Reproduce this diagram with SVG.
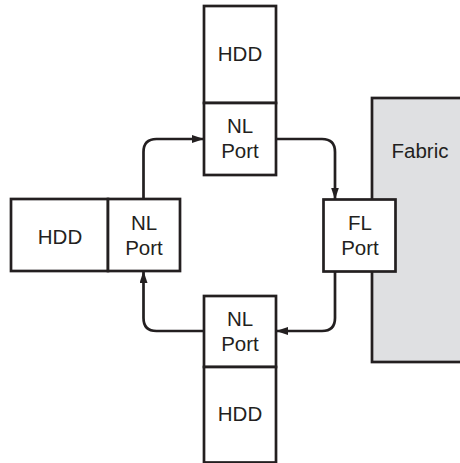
<svg xmlns="http://www.w3.org/2000/svg" width="460" height="463" viewBox="0 0 460 463">
<defs>
<style>
.box{fill:#ffffff;stroke:#231f20;stroke-width:2.7}
.fab{fill:#dfe0e2;stroke:#231f20;stroke-width:2.7}
.t{font-family:"Liberation Sans",Arial,sans-serif;font-size:20.5px;fill:#231f20;text-anchor:middle}
.c{fill:none;stroke:#231f20;stroke-width:2.7}
</style>
<marker id="ah" viewBox="0 0 12 8" refX="12" refY="4" markerWidth="12" markerHeight="8" markerUnits="userSpaceOnUse" orient="auto">
<path d="M0,0 L12,4 L0,8 Z" fill="#231f20"/>
</marker>
</defs>
<rect width="460" height="463" fill="#ffffff"/>
<g id="fabric">
<rect class="fab" x="372" y="98" width="100" height="264"/>
<text class="t" x="420" y="158">Fabric</text>
</g>
<g id="hdd-top">
<rect class="box" x="204" y="6" width="72" height="97"/>
<text class="t" x="240" y="61">HDD</text>
</g>
<g id="nlport-top">
<rect class="box" x="204" y="103" width="72" height="72"/>
<text class="t" x="240" y="133">NL</text>
<text class="t" x="240" y="158">Port</text>
</g>
<g id="hdd-left">
<rect class="box" x="11" y="199" width="97" height="72"/>
<text class="t" x="60" y="244">HDD</text>
</g>
<g id="nlport-left">
<rect class="box" x="108" y="199" width="72" height="72"/>
<text class="t" x="144" y="230">NL</text>
<text class="t" x="144" y="255">Port</text>
</g>
<g id="flport">
<rect class="box" x="323.5" y="199.5" width="72" height="72"/>
<text class="t" x="360" y="230">FL</text>
<text class="t" x="360" y="255">Port</text>
</g>
<g id="nlport-bottom">
<rect class="box" x="204" y="296" width="72" height="71"/>
<text class="t" x="240" y="326">NL</text>
<text class="t" x="240" y="351">Port</text>
</g>
<g id="hdd-bottom">
<rect class="box" x="204" y="367" width="72" height="95.5"/>
<text class="t" x="240" y="421">HDD</text>
</g>
<g id="connectors">
<path class="c" d="M143.5,199 L143.5,152 Q143.5,139 156.5,139 L204,139" marker-end="url(#ah)"/>
<path class="c" d="M276,139 L322,139 Q335,139 335,152 L335,199.5" marker-end="url(#ah)"/>
<path class="c" d="M335,271.5 L335,318 Q335,331 322,331 L276,331" marker-end="url(#ah)"/>
<path class="c" d="M204,331 L156.5,331 Q143.5,331 143.5,318 L143.5,271" marker-end="url(#ah)"/>
</g>
</svg>
